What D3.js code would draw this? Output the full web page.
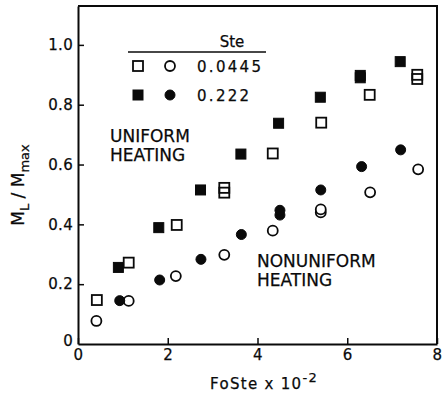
<!DOCTYPE html>
<html>
<head>
<meta charset="utf-8">
<script src="https://cdn.jsdelivr.net/npm/d3@7"></script>
<style>
  html, body { margin: 0; padding: 0; background: #fff; }
  svg { display: block; font-family: "DejaVu Sans", sans-serif; }
  text { stroke: #0a0a0a; stroke-width: 0.25px; }
</style>
</head>
<body>
<svg id="chart" width="444" height="398"></svg>
<script>
// ---- data ----
const xTicks = [0, 2, 4, 6, 8];
const yTicks = [0, 0.2, 0.4, 0.6, 0.8, 1.0];
const steLabels = ["0.0445", "0.222"];

// Uniform heating, Ste = 0.0445 (open squares)
const uniLowX = [0.42, 1.13, 2.20, 3.26, 3.26, 4.34, 5.42, 6.50, 7.56, 7.56];
const uniLowY = [0.147, 0.272, 0.398, 0.506, 0.522, 0.637, 0.740, 0.833, 0.886, 0.900];
// Uniform heating, Ste = 0.222 (filled squares)
const uniHighX = [0.90, 1.80, 2.73, 3.63, 4.47, 5.40, 6.29, 6.29, 7.18];
const uniHighY = [0.256, 0.389, 0.515, 0.635, 0.738, 0.825, 0.890, 0.898, 0.944];
// Nonuniform heating, Ste = 0.0445 (open circles)
const nonLowX = [0.41, 1.13, 2.18, 3.26, 4.34, 5.41, 5.41, 6.51, 7.58];
const nonLowY = [0.077, 0.144, 0.227, 0.298, 0.379, 0.440, 0.450, 0.507, 0.584];
// Nonuniform heating, Ste = 0.222 (filled circles)
const nonHighX = [0.93, 1.82, 2.74, 3.64, 4.50, 4.50, 5.41, 6.32, 7.19];
const nonHighY = [0.145, 0.214, 0.283, 0.366, 0.431, 0.447, 0.515, 0.593, 0.649];

// ---- layout ----
const svg = d3.select("#chart");
const ink = "#0a0a0a";
const x = d3.scaleLinear().domain([0, 8]).range([78, 437]);
const y = d3.scaleLinear().domain([0, 1.13]).range([344, 6]);

// frame (top & right)
svg.append("path")
  .attr("d", `M${x(0)},${y(1.13)}H${x(8)}V${y(0)}`)
  .attr("fill", "none").attr("stroke", ink).attr("stroke-width", 2);

// axes
const xAxis = d3.axisBottom(x).tickValues(xTicks).tickSizeInner(-6).tickSizeOuter(0).tickPadding(5)
  .tickFormat(d3.format("d"));
const gx = svg.append("g").attr("transform", `translate(0,${y(0)})`).call(xAxis);
const yAxis = d3.axisLeft(y).tickValues(yTicks).tickSizeInner(-6).tickSizeOuter(0).tickPadding(5)
  .tickFormat(d => d === 0 ? "0" : d3.format(".1f")(d));
const gy = svg.append("g").attr("transform", `translate(${x(0)},0)`).call(yAxis);

[gx, gy].forEach(g => {
  g.select(".domain").attr("stroke", ink).attr("stroke-width", 2);
  g.selectAll(".tick line").attr("stroke", ink).attr("stroke-width", 1.5);
  g.selectAll(".tick text").attr("fill", ink).attr("font-size", 15)
    .attr("font-family", "DejaVu Sans, sans-serif").style("letter-spacing", "0.3px");
});
gy.selectAll(".tick").filter(d => d === 0).select("line").remove();
gy.selectAll(".tick").filter(d => d === 0).select("text").attr("dy", "0.1em");

// axis titles
const xt = svg.append("text").attr("x", 264).attr("y", 389).attr("text-anchor", "middle")
  .attr("font-size", 15).attr("fill", ink).style("letter-spacing", "1.3px");
xt.append("tspan").text("FoSte x 10");
xt.append("tspan").attr("dy", -7).attr("font-size", 13).text("-2");

const yt = svg.append("text").attr("transform", "translate(24,185) rotate(-90)")
  .attr("text-anchor", "middle").attr("font-size", 17).attr("fill", ink);
yt.append("tspan").text("M");
yt.append("tspan").attr("dy", 5).attr("font-size", 13).text("L");
yt.append("tspan").attr("dy", -5).text(" / M");
yt.append("tspan").attr("dy", 5).attr("font-size", 13).text("max");

// markers
const S = 10, R = 5;
function squares(xs, ys, filled) {
  svg.append("g").selectAll("rect").data(xs.map((v, i) => [v, ys[i]])).join("rect")
    .attr("x", d => x(d[0]) - S / 2).attr("y", d => y(d[1]) - S / 2)
    .attr("width", S).attr("height", S)
    .attr("fill", filled ? ink : "none").attr("stroke", ink).attr("stroke-width", filled ? 1 : 1.8);
}
function circles(xs, ys, filled) {
  svg.append("g").selectAll("circle").data(xs.map((v, i) => [v, ys[i]])).join("circle")
    .attr("cx", d => x(d[0])).attr("cy", d => y(d[1])).attr("r", R)
    .attr("fill", filled ? ink : "#fff").attr("stroke", ink).attr("stroke-width", filled ? 1 : 1.8);
}
squares(uniLowX, uniLowY, false);
squares(uniHighX, uniHighY, true);
circles(nonLowX, nonLowY, false);
circles(nonHighX, nonHighY, true);

// legend
svg.append("text").attr("x", 232).attr("y", 47).attr("text-anchor", "middle")
  .attr("font-size", 15).attr("fill", ink).text("Ste");
svg.append("line").attr("x1", 128).attr("x2", 266).attr("y1", 52).attr("y2", 52)
  .attr("stroke", ink).attr("stroke-width", 1.5);
const legRows = [66, 95];
legRows.forEach((ly, i) => {
  const filled = i === 1;
  svg.append("rect").attr("x", 138 - S / 2).attr("y", ly - S / 2).attr("width", S).attr("height", S)
    .attr("fill", filled ? ink : "#fff").attr("stroke", ink).attr("stroke-width", filled ? 1 : 1.8);
  svg.append("circle").attr("cx", 170).attr("cy", ly).attr("r", R)
    .attr("fill", filled ? ink : "#fff").attr("stroke", ink).attr("stroke-width", filled ? 1 : 1.8);
  svg.append("text").attr("x", 197).attr("y", ly + 6).attr("font-size", 15).attr("fill", ink)
    .style("letter-spacing", "2.3px").text(steLabels[i]);
});

// annotations
function note(lines, x0, y0) {
  lines.forEach((t, i) => svg.append("text").attr("x", x0).attr("y", y0 + i * 19)
    .attr("font-size", 17).attr("fill", ink).text(t));
}
note(["UNIFORM", "HEATING"], 110, 142);
note(["NONUNIFORM", "HEATING"], 257, 267);
</script>
</body>
</html>
